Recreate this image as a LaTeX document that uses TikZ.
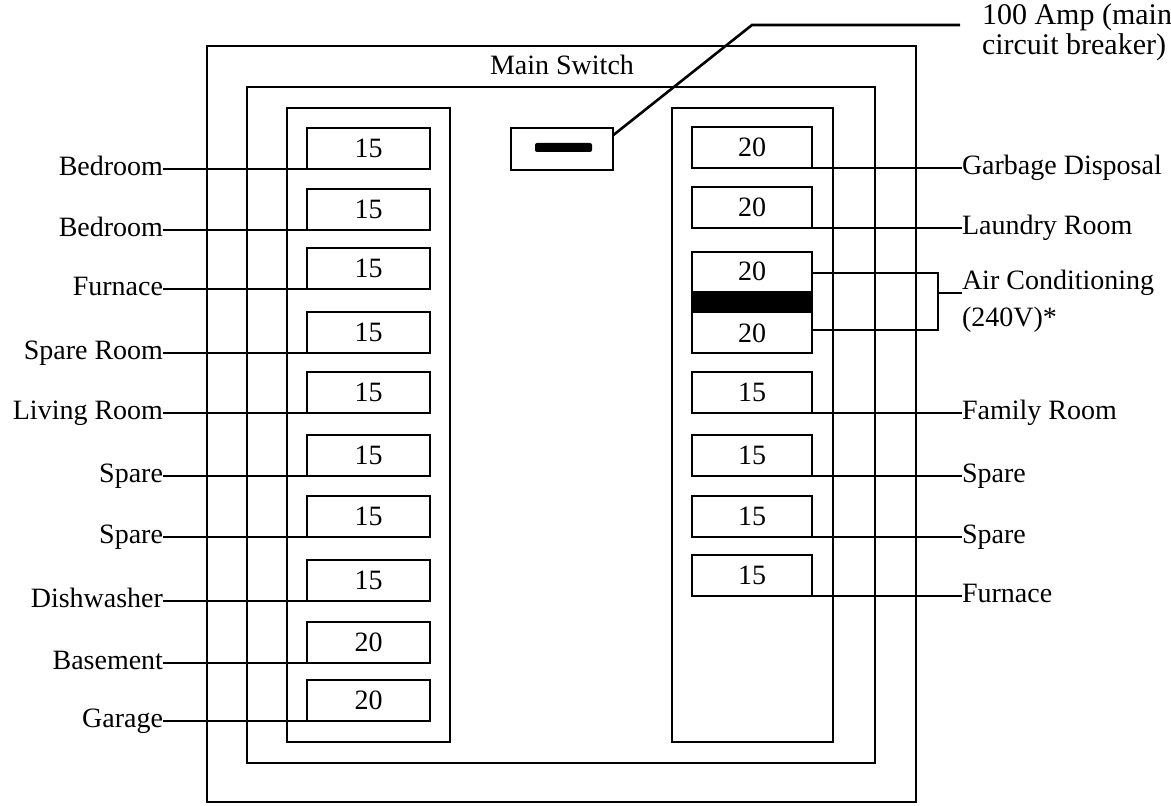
\documentclass[tikz,border=0pt]{standalone}
\usepackage{fontspec}
\setmainfont{Liberation Serif}
\begin{document}
\begin{tikzpicture}[x=0.5pt,y=-0.5pt, line width=1.3pt,
  font=\fontsize{14}{18.5}\selectfont,
  every node/.style={outer sep=0pt},
  lab/.style={inner sep=0pt, text height=0.66em, text depth=0pt},
  labL/.style={lab, anchor=east},
  labR/.style={lab, anchor=west},
  brkL/.style={draw, minimum width=61.5pt, minimum height=20.5pt, inner sep=0pt},
  brkR/.style={draw, minimum width=60pt, minimum height=20.5pt, inner sep=0pt},
  wire/.style={line width=1.3pt}]
\useasboundingbox (0,0) rectangle (1171,806);

% panels
\draw (207,46) rectangle (916,802);
\draw (247,87) rectangle (875,763);
\draw (287,108) rectangle (450,742);
\draw (672,108) rectangle (833,742);

\node (ms) at (562,65) {Main Switch};

% main breaker
\node[draw, minimum width=51pt, minimum height=21pt, inner sep=0pt] (mainbox) at (562,149) {};
\node[fill, rounded corners=1pt, minimum width=28.5pt, minimum height=4.5pt, inner sep=0pt] (bar) at (563.5,147.5) {};
\node[inner sep=0pt, anchor=west, align=left, font=\fontsize{15}{15}\selectfont] (amp) at (982,32) {100 Amp (main\\circuit breaker)};
\coordinate (kink) at (752,25);
\coordinate (ampend) at (960,25);
\draw[wire] (mainbox.15) -- (kink) -- (ampend);

% left breakers
\foreach \i/\c/\v/\t in {1/148.5/15/Bedroom, 2/209.5/15/Bedroom, 3/268.5/15/Furnace,
  4/332.5/15/Spare Room, 5/392.5/15/Living Room, 6/455.5/15/Spare, 7/516.5/15/Spare,
  8/580.5/15/Dishwasher, 9/642.5/20/Basement, 10/700.5/20/Garage} {
  \node[brkL] (L\i) at (368.5,\c) {\v};
  \node[labL] (LL\i) at (163,\c+20.5) {\t};
  \draw[wire] (LL\i.east) -- (L\i.south west);
}

% right breakers
\foreach \i/\c/\v/\t in {1/147.5/20/Garbage Disposal, 2/207.5/20/Laundry Room,
  4/392.5/15/Family Room, 5/455.5/15/Spare, 6/516.5/15/Spare, 7/575.5/15/Furnace} {
  \node[brkR] (R\i) at (752,\c) {\v};
  \node[labR] (RL\i) at (962,\c+20.5) {\t};
  \draw[wire] (R\i.south east) -- (RL\i.west);
}

% air conditioning double breaker
\node[brkR, minimum height=50.5pt] (ac) at (752,302.5) {};
\fill (692,291) rectangle (812,313);
\node[inner sep=0pt] (ac1) at (752,271) {20};
\node[inner sep=0pt] (ac2) at (752,333) {20};
\node[inner sep=0pt, anchor=west, align=left] (acl) at (962,301) {Air Conditioning\\(240V)*};
\coordinate (act) at (812,273);
\coordinate (acb) at (812,330);
\coordinate (acm) at (938,293);
\draw[wire] (act) -- (938,273) -- (938,330) -- (acb);
\draw[wire] (acm) -- (acm -| acl.west);
\end{tikzpicture}
\end{document}
